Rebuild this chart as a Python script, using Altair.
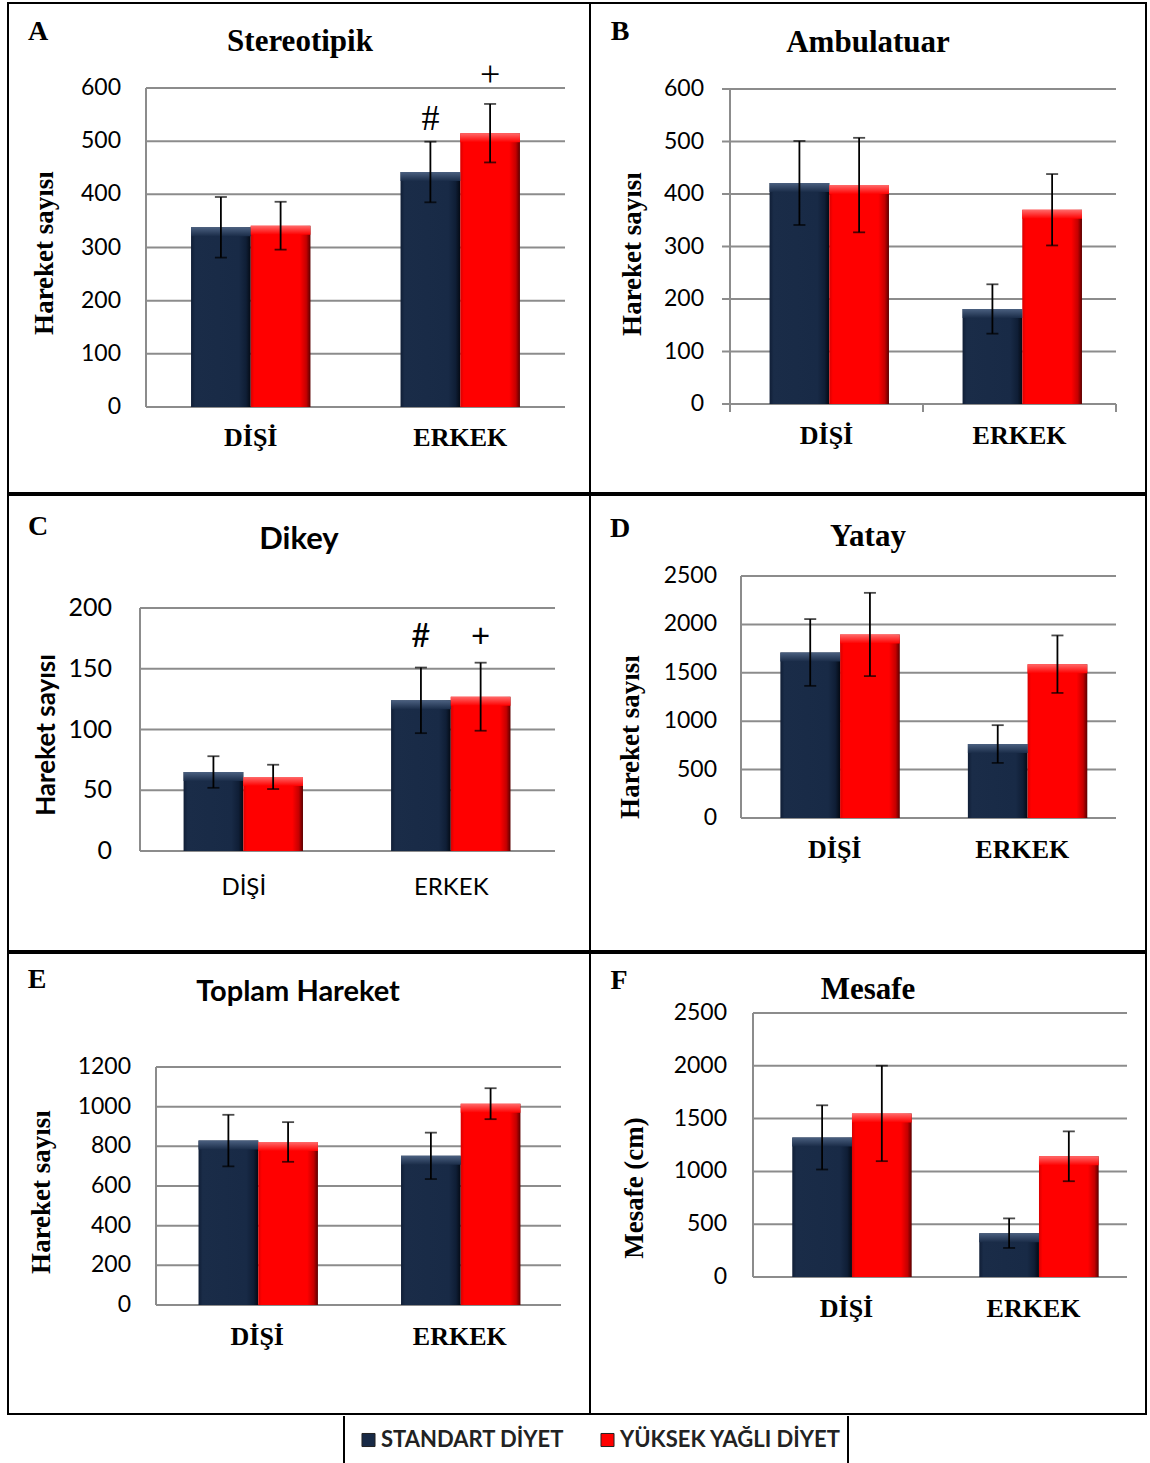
import altair as alt
import pandas as pd

# ---------------- data ----------------
categories = ["DİŞİ", "ERKEK"]
series = ["STANDART DİYET", "YÜKSEK YAĞLI DİYET"]

# A - Stereotipik
a_std_mean = [338, 442]
a_std_err = [57, 57]
a_yy_mean = [341, 515]
a_yy_err = [45, 55]
a_ticks = [0, 100, 200, 300, 400, 500, 600]
a_marks = [("ERKEK", "STANDART DİYET", "#", 541), ("ERKEK", "YÜKSEK YAĞLI DİYET", "+", 624)]

# B - Ambulatuar
b_std_mean = [421, 181]
b_std_err = [80, 47]
b_yy_mean = [417, 370]
b_yy_err = [90, 68]
b_ticks = [0, 100, 200, 300, 400, 500, 600]

# C - Dikey
c_std_mean = [65, 124]
c_std_err = [13, 27]
c_yy_mean = [61, 127]
c_yy_err = [10, 28]
c_ticks = [0, 50, 100, 150, 200]
c_marks = [("ERKEK", "STANDART DİYET", "#", 176), ("ERKEK", "YÜKSEK YAĞLI DİYET", "+", 176)]

# D - Yatay
d_std_mean = [1710, 764]
d_std_err = [345, 195]
d_yy_mean = [1896, 1589]
d_yy_err = [430, 297]
d_ticks = [0, 500, 1000, 1500, 2000, 2500]

# E - Toplam Hareket
e_std_mean = [829, 752]
e_std_err = [130, 117]
e_yy_mean = [822, 1015]
e_yy_err = [100, 78]
e_ticks = [0, 200, 400, 600, 800, 1000, 1200]

# F - Mesafe
f_std_mean = [1322, 415]
f_std_err = [304, 140]
f_yy_mean = [1549, 1143]
f_yy_err = [452, 236]
f_ticks = [0, 500, 1000, 1500, 2000, 2500]

# ---------------- style ----------------
SANS = "Lato"
SERIF = "Liberation Serif"
GRID = "#8c8c8c"


def hgrad(stops):
    return alt.LinearGradient(
        gradient="linear", x1=0, x2=1, y1=0, y2=0,
        stops=[alt.GradientStop(offset=o, color=c) for o, c in stops])


def vgrad(stops):
    return alt.LinearGradient(
        gradient="linear", x1=0, x2=0, y1=0, y2=1,
        stops=[alt.GradientStop(offset=o, color=c) for o, c in stops])


FILLS = {
    series[0]: hgrad([(0, "#101e36"), (0.07, "#1a2c48"), (0.8, "#182a46"), (0.92, "#0f1e36"), (1, "#040a14")]),
    series[1]: hgrad([(0, "#d80000"), (0.06, "#ff0000"), (0.82, "#ff0000"), (0.93, "#c40000"), (1, "#5a0000")]),
}
TOPS = {
    series[0]: vgrad([(0, "#4b6080"), (1, "#1a2c48")]),
    series[1]: vgrad([(0, "#ff6a6a"), (1, "#ff0000")]),
}
SOLID = {series[0]: "#182a46", series[1]: "#ff0000"}


def one(val="x"):
    return pd.DataFrame({"t": [val]})


def make_panel(p):
    rows = []
    for i, c in enumerate(categories):
        for s, m, e in ((series[0], p["std_mean"], p["std_err"]),
                        (series[1], p["yy_mean"], p["yy_err"])):
            rows.append({"category": c, "series": s, "mean": m[i],
                         "lo": m[i] - e[i], "hi": m[i] + e[i]})
    df = pd.DataFrame(rows)
    tdf = pd.DataFrame({"v": p["ticks"]})

    L, R, T, Bt = p["plot"]  # plot rectangle inside the panel box
    xsc = alt.Scale(domain=categories, range=[L, R], paddingInner=p["pad"], paddingOuter=p["pad"] / 2)
    ysc = alt.Scale(domain=[0, p["ticks"][-1]], range=[Bt, T], nice=False, zero=True)
    xo = alt.XOffset("series:N", scale=alt.Scale(domain=series, paddingInner=0, paddingOuter=0))
    X = alt.X("category:N", scale=xsc, axis=None, title=None)

    layers = []
    # gridlines (from the tick list)
    layers.append(alt.Chart(tdf).mark_rule(color=GRID, strokeWidth=2).encode(
        x=alt.value(L - (8 if p["yticks"] else 0)), x2=alt.value(R),
        y=alt.Y("v:Q", scale=ysc, axis=None)))
    # y axis line
    layers.append(alt.Chart(one()).mark_rule(color=GRID, strokeWidth=2).encode(
        x=alt.value(L), y=alt.value(T), y2=alt.value(Bt)))
    # x axis tick marks at band edges (panel B)
    if p["xticks"]:
        for xv in (L, (L + R) / 2, R):
            layers.append(alt.Chart(one()).mark_rule(color=GRID, strokeWidth=2).encode(
                x=alt.value(xv), y=alt.value(Bt), y2=alt.value(Bt + 8)))
    # tick labels
    layers.append(alt.Chart(tdf).mark_text(font=SANS, fontSize=p["ylab"], color="black",
                                          align="right", baseline="middle").encode(
        x=alt.value(p["ylab_x"]), y=alt.Y("v:Q", scale=ysc, axis=None), text="v:Q"))
    # bars
    for s in series:
        layers.append(
            alt.Chart(df).transform_filter(alt.datum.series == s).mark_bar(color=FILLS[s]).encode(
                x=X, xOffset=xo, y=alt.Y("mean:Q", scale=ysc, axis=None), y2=alt.datum(0)))
    for s in series:
        layers.append(
            alt.Chart(df).transform_filter(alt.datum.series == s).mark_bar(color=TOPS[s], y2Offset=9).encode(
                x=X, xOffset=xo, y=alt.Y("mean:Q", scale=ysc, axis=None), y2="mean:Q"))
    # error bars
    layers.append(
        alt.Chart(df).mark_rule(color="black", strokeWidth=1.8).encode(
            x=X, xOffset=xo, y=alt.Y("lo:Q", scale=ysc, axis=None), y2="hi:Q"))
    layers.append(
        alt.Chart(df).transform_fold(["lo", "hi"], as_=["k", "v"]).mark_tick(
            color="black", size=12, thickness=1.8).encode(
            x=X, xOffset=xo, y=alt.Y("v:Q", scale=ysc, axis=None)))
    # significance marks
    if p.get("marks"):
        mdf = pd.DataFrame(p["marks"], columns=["category", "series", "label", "pos"])
        layers.append(
            alt.Chart(mdf).mark_text(font=p["mark_font"], fontSize=p["mark_size"], color="black",
                                     baseline="middle", align="center").encode(
                x=X, xOffset=xo, y=alt.Y("pos:Q", scale=ysc, axis=None), text="label:N"))
    # category labels
    layers.append(
        alt.Chart(pd.DataFrame({"category": categories})).mark_text(
            font=p["xfont"], fontSize=p["xsize"], fontWeight=p["xweight"], color="black",
            align="center", baseline="middle").encode(
            x=X, y=alt.value(p["xlab_y"]), text="category:N"))
    # y title
    yx, yy = p["ytitle_xy"]
    layers.append(
        alt.Chart(one(p["ytitle"])).mark_text(font=p["tfont"], fontSize=p["tsize"], fontWeight="bold",
                                              color="black", align="center", baseline="middle",
                                              angle=270).encode(
            x=alt.value(yx), y=alt.value(yy), text="t:N"))
    # panel letter
    lx, ly = p["letter_xy"]
    layers.append(
        alt.Chart(one(p["letter"])).mark_text(font=SERIF, fontSize=28, fontWeight="bold",
                                              color="black", align="center", baseline="middle").encode(
            x=alt.value(lx), y=alt.value(ly), text="t:N"))
    # panel title
    tx, ty = p["title_xy"]
    layers.append(
        alt.Chart(one(p["title"])).mark_text(font=p["title_font"], fontSize=p["title_size"],
                                             fontWeight="bold", color="black", align="center",
                                             baseline="middle").encode(
            x=alt.value(tx), y=alt.value(ty), text="t:N"))
    return alt.layer(*layers).properties(
        width=p["w"], height=p["h"],
        view=alt.ViewBackground(stroke="black", strokeWidth=2, fill="white"))


common = dict(xfont=SERIF, xsize=26, xweight="bold", xticks=False, yticks=False,
              ylab=23, tfont=SERIF, tsize=27, title_font=SERIF, title_size=31)

A = make_panel(dict(common, std_mean=a_std_mean, std_err=a_std_err, yy_mean=a_yy_mean, yy_err=a_yy_err,
                    ticks=a_ticks, marks=a_marks, mark_font=SERIF, mark_size=36,
                    pad=0.43, w=582, h=490, plot=(138, 557, 85, 404),
                    ylab_x=113, xlab_y=435, ytitle="Hareket sayısı", ytitle_xy=(37, 250),
                    title="Stereotipik", title_xy=(292, 39), letter="A", letter_xy=(30, 29)))
B = make_panel(dict(common, std_mean=b_std_mean, std_err=b_std_err, yy_mean=b_yy_mean, yy_err=b_yy_err,
                    ticks=b_ticks, pad=0.41, w=556, h=490, plot=(140, 526, 86, 401), yticks=True, xticks=True,
                    ylab_x=114, xlab_y=433, ytitle="Hareket sayısı", ytitle_xy=(43, 251),
                    title="Ambulatuar", title_xy=(278, 40), letter="B", letter_xy=(30, 29)))
C = make_panel(dict(common, std_mean=c_std_mean, std_err=c_std_err, yy_mean=c_yy_mean, yy_err=c_yy_err,
                    ticks=c_ticks, marks=c_marks, mark_font=SANS, mark_size=33,
                    pad=0.42, w=582, h=456, plot=(132, 547, 113, 356),
                    xfont=SANS, xsize=24, xweight="normal", ylab=25,
                    ylab_x=104, xlab_y=393, ytitle="Hareket  sayısı", tfont=SANS, tsize=26,
                    ytitle_xy=(39, 240), title="Dikey", title_font=SANS, title_size=31,
                    title_xy=(291, 45), letter="C", letter_xy=(30, 32)))
D = make_panel(dict(common, std_mean=d_std_mean, std_err=d_std_err, yy_mean=d_yy_mean, yy_err=d_yy_err,
                    ticks=d_ticks, pad=0.42, w=556, h=456, plot=(151, 526, 81, 323),
                    ylab_x=127, xlab_y=355, ytitle="Hareket sayısı", ytitle_xy=(41, 242),
                    title="Yatay", title_xy=(278, 42), letter="D", letter_xy=(30, 34)))
E = make_panel(dict(common, std_mean=e_std_mean, std_err=e_std_err, yy_mean=e_yy_mean, yy_err=e_yy_err,
                    ticks=e_ticks, pad=0.42, w=582, h=461, plot=(148, 553, 114, 352),
                    ylab_x=123, xlab_y=384, ytitle="Hareket sayısı", ytitle_xy=(34, 239),
                    title="Toplam Hareket", title_font=SANS, title_size=29, title_xy=(290, 39),
                    letter="E", letter_xy=(29, 27)))
F = make_panel(dict(common, std_mean=f_std_mean, std_err=f_std_err, yy_mean=f_yy_mean, yy_err=f_yy_err,
                    ticks=f_ticks, pad=0.42, w=556, h=461, plot=(163, 537, 60, 324),
                    ylab_x=137, xlab_y=356, ytitle="Mesafe  (cm)", ytitle_xy=(45, 235),
                    title="Mesafe", title_xy=(278, 37), letter="F", letter_xy=(29, 28)))

# ---------------- legend strip ----------------
leg_layers = []
for xv in (336, 840):
    leg_layers.append(alt.Chart(one()).mark_rule(color="black", strokeWidth=2).encode(
        x=alt.value(xv), y=alt.value(0), y2=alt.value(47)))
for s, (sx, tx) in zip(series, [(360.5, 373), (599.5, 612)]):
    leg_layers.append(alt.Chart(pd.DataFrame({"series": [s]})).mark_square(
        size=170, color=SOLID[s], opacity=1, stroke="#222222", strokeWidth=1).encode(
        x=alt.value(sx), y=alt.value(24)))
    leg_layers.append(alt.Chart(pd.DataFrame({"series": [s]})).mark_text(
        font=SANS, fontSize=22, fontWeight="bold", color="#222222", align="left",
        baseline="middle").encode(x=alt.value(tx), y=alt.value(24), text="series:N"))
legend = alt.layer(*leg_layers).properties(
    width=1138, height=47, view=alt.ViewBackground(strokeWidth=0, fill="white"))

chart = alt.vconcat(
    alt.hconcat(A, B, spacing=0, bounds="flush"),
    alt.hconcat(C, D, spacing=0, bounds="flush"),
    alt.hconcat(E, F, spacing=0, bounds="flush"),
    legend,
    spacing=0,
).properties(
    padding={"left": 7, "top": 2, "right": 0, "bottom": 0},
    background="white",
)

chart.save("out.html", embed_options={"renderer": "svg", "actions": False})
